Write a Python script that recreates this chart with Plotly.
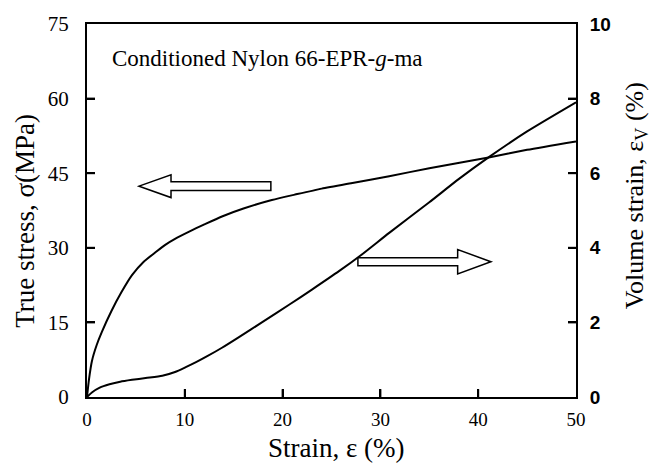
import plotly.graph_objects as go

# Stress-strain data (left axis)
strain_s = [0, 0.2, 0.5, 1.0, 1.5, 2.5, 3.5, 4.6, 5.8, 7, 8, 9, 10.5, 12, 13.8, 16, 18.9,
            21.5, 24, 27, 30.9, 35, 41.2, 45, 50]
stress = [0, 3.5, 7.2, 10.5, 13, 17.3, 21, 24.5, 27.2, 29.1, 30.6, 31.8, 33.3, 34.7, 36.3, 37.9,
          39.6, 40.8, 41.9, 43, 44.4, 46, 48.2, 49.7, 51.4]

# Volume strain data (right axis)
strain_v = [0, 0.5, 1.3, 2.3, 3.4, 4.6, 6, 7.7, 9, 10.1, 11.2, 12.2, 13.8, 15.5, 18, 20.7,
            23, 25.8, 28, 30.9, 35, 38, 41.2, 45, 50]
vol = [0, 0.12, 0.25, 0.34, 0.41, 0.46, 0.51, 0.57, 0.67, 0.8, 0.94, 1.08, 1.32, 1.6, 2.02,
       2.48, 2.88, 3.38, 3.8, 4.4, 5.22, 5.84, 6.45, 7.12, 7.9]

x_ticks = [0, 10, 20, 30, 40, 50]
y_ticks = [0, 15, 30, 45, 60, 75]
y2_ticks = [0, 2, 4, 6, 8, 10]

SERIF = "Liberation Serif, Times New Roman, serif"
SANS = "Liberation Sans, Arial, sans-serif"

PLOT_W, PLOT_H = 489, 381
TICK = 8

fig = go.Figure()
fig.add_trace(go.Scatter(x=strain_s, y=stress, mode="lines",
                         line=dict(color="black", width=2, shape="spline", smoothing=0.6),
                         showlegend=False))
fig.add_trace(go.Scatter(x=strain_v, y=vol, mode="lines",
                         line=dict(color="black", width=2, shape="spline", smoothing=0.6),
                         yaxis="y2", showlegend=False))

# inside tick marks
for t in x_ticks[1:-1]:
    fig.add_shape(type="line", xref="x", yref="paper", x0=t, x1=t, y0=0, y1=TICK / PLOT_H,
                  line=dict(color="black", width=2), layer="above")
for t in y_ticks[1:-1]:
    fig.add_shape(type="line", xref="paper", yref="y", x0=0, x1=TICK / PLOT_W, y0=t, y1=t,
                  line=dict(color="black", width=2), layer="above")
for t in y2_ticks[1:-1]:
    fig.add_shape(type="line", xref="paper", yref="y2", x0=1 - TICK / PLOT_W, x1=1, y0=t, y1=t,
                  line=dict(color="black", width=2), layer="above")

# hollow block arrows (data coords of left axis)
def block_arrow(tip_x, tip_y, head_x, tail_x, hh, sh):
    return (f"M {tip_x},{tip_y} L {head_x},{tip_y+hh} L {head_x},{tip_y+sh} L {tail_x},{tip_y+sh} "
            f"L {tail_x},{tip_y-sh} L {head_x},{tip_y-sh} L {head_x},{tip_y-hh} Z")

fig.add_shape(type="path", xref="x", yref="y",
              path=block_arrow(5.32, 42.4, 8.59, 18.8, 2.3, 0.9),
              line=dict(color="black", width=1.5), fillcolor="white")
fig.add_shape(type="path", xref="x", yref="y",
              path=block_arrow(41.3, 27.2, 37.9, 27.7, 2.45, 0.8),
              line=dict(color="black", width=1.5), fillcolor="white")

fig.add_annotation(x=(110 - 87) / PLOT_W, y=(398 - 52) / PLOT_H, xref="paper", yref="paper",
                   text="Conditioned Nylon 66-EPR-<i>g</i>-ma", showarrow=False,
                   xanchor="left", yanchor="middle", font=dict(family=SERIF, size=23, color="black"))

fig.add_annotation(x=(25 - 87) / PLOT_W, y=(398 - 218) / PLOT_H, xref="paper", yref="paper",
                   text="True stress, σ(MPa)", showarrow=False, textangle=-90,
                   xanchor="center", yanchor="middle", font=dict(family=SERIF, size=27, color="black"))
fig.add_annotation(x=(636 - 87) / PLOT_W, y=(398 - 193) / PLOT_H, xref="paper", yref="paper",
                   text="Volume strain, ε<sub>V</sub> (%)", showarrow=False, textangle=-90,
                   xanchor="center", yanchor="middle", font=dict(family=SERIF, size=26, color="black"))
fig.add_annotation(x=(336 - 87) / PLOT_W, y=(398 - 450) / PLOT_H, xref="paper", yref="paper",
                   text="Strain, ε (%)", showarrow=False,
                   xanchor="center", yanchor="middle", font=dict(family=SERIF, size=27, color="black"))

fig.update_layout(
    width=652, height=469,
    margin=dict(l=87, r=76, t=17, b=72),
    paper_bgcolor="white", plot_bgcolor="white",
    xaxis=dict(range=[0, 50], tickvals=x_ticks, ticks="inside", ticklen=TICK, tickwidth=2, tickcolor="black",
               showline=True, linewidth=2, linecolor="black", mirror=True, showgrid=False, zeroline=False,
               tickfont=dict(family=SERIF, size=19, color="black"), ticklabelstandoff=4),
    yaxis=dict(range=[0, 75], tickvals=y_ticks, ticks="inside", ticklen=TICK, tickwidth=2, tickcolor="black",
               showline=True, linewidth=2, linecolor="black", showgrid=False, zeroline=False,
               tickfont=dict(family=SERIF, size=21, color="black"), ticklabelstandoff=12),
    yaxis2=dict(range=[0, 10], tickvals=y2_ticks, ticks="inside", ticklen=TICK, tickwidth=2, tickcolor="black",
                overlaying="y", side="right",
                showline=True, linewidth=2, linecolor="black", showgrid=False, zeroline=False,
                tickfont=dict(family=SANS, size=19, color="black", weight="bold"), ticklabelstandoff=8),
)

fig.write_html("out.html")
